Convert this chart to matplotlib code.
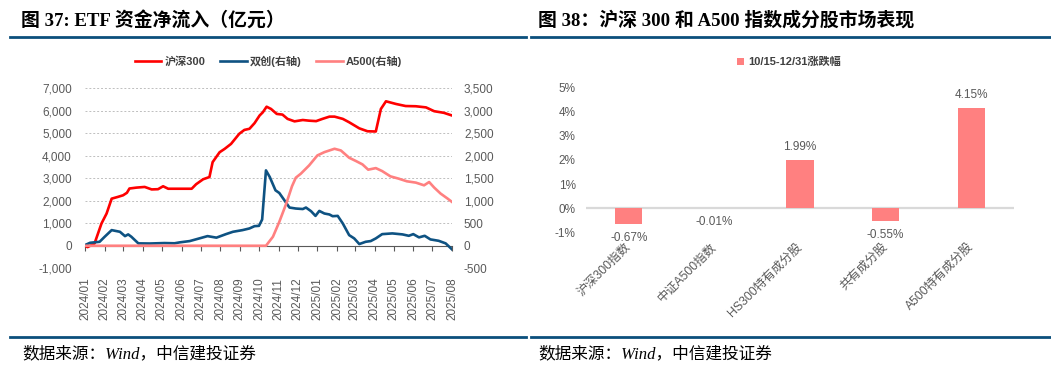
import numpy as np
import pandas as pd
import matplotlib
matplotlib.use('Agg')
import matplotlib.pyplot as plt
import matplotlib.dates as mdates
from matplotlib.ticker import FuncFormatter, MultipleLocator
from matplotlib.lines import Line2D

plt.rcParams['font.family'] = ['Liberation Sans', 'Noto Sans CJK SC']
plt.rcParams['axes.unicode_minus'] = False

# ---- 图37: ETF资金净流入 (亿元) ----
hs300_dates = ['2024-01-01', '2024-01-05', '2024-01-16', '2024-01-27', '2024-02-04', '2024-02-12',
               '2024-02-22', '2024-03-01', '2024-03-07', '2024-03-11', '2024-03-22', '2024-04-04',
               '2024-04-15', '2024-04-25', '2024-05-03', '2024-05-11', '2024-05-24', '2024-06-17',
               '2024-06-24', '2024-07-05', '2024-07-15', '2024-07-20', '2024-07-31', '2024-08-08',
               '2024-08-18', '2024-08-31', '2024-09-08', '2024-09-16', '2024-09-24', '2024-10-02',
               '2024-10-07', '2024-10-13', '2024-10-20', '2024-10-29', '2024-11-07', '2024-11-15',
               '2024-11-26', '2024-12-09', '2024-12-19', '2024-12-30', '2025-01-09', '2025-01-20',
               '2025-01-28', '2025-02-10', '2025-02-20', '2025-03-08', '2025-03-21', '2025-04-03',
               '2025-04-11', '2025-04-19', '2025-05-05', '2025-05-20', '2025-06-05', '2025-06-21',
               '2025-07-04', '2025-07-19', '2025-08-01']
hs300_vals = [0, -60, 100, 990, 1430, 2090,
              2170, 2240, 2350, 2540, 2580, 2610,
              2500, 2510, 2640, 2530, 2530, 2530,
              2730, 2950, 3050, 3710, 4150, 4300,
              4520, 4970, 5140, 5190, 5440, 5780,
              5920, 6170, 6070, 5850, 5820, 5630,
              5520, 5580, 5550, 5530, 5630, 5730,
              5730, 5630, 5480, 5210, 5080, 5070,
              6070, 6410, 6290, 6200, 6190, 6140,
              5970, 5900, 5780]

sc_dates = ['2024-01-01', '2024-01-09', '2024-01-24', '2024-02-01', '2024-02-12', '2024-02-25',
            '2024-03-04', '2024-03-09', '2024-03-14', '2024-03-25', '2024-04-12', '2024-05-05',
            '2024-05-21', '2024-05-29', '2024-06-14', '2024-06-29', '2024-07-12', '2024-07-26',
            '2024-08-10', '2024-08-21', '2024-09-05', '2024-09-16', '2024-09-24', '2024-10-01',
            '2024-10-06', '2024-10-12', '2024-10-18', '2024-10-27', '2024-11-02', '2024-11-10',
            '2024-11-18', '2024-11-28', '2024-12-09', '2024-12-14', '2024-12-22', '2024-12-29',
            '2025-01-04', '2025-01-12', '2025-01-20', '2025-01-25', '2025-02-02', '2025-02-10',
            '2025-02-20', '2025-02-28', '2025-03-08', '2025-03-18', '2025-03-26', '2025-04-03',
            '2025-04-13', '2025-04-29', '2025-05-15', '2025-05-25', '2025-06-01', '2025-06-10',
            '2025-06-19', '2025-06-28', '2025-07-11', '2025-07-22', '2025-08-01']
sc_vals = [15, 66, 88, 200, 347, 310,
           214, 252, 200, 53, 50, 60,
           55, 75, 104, 163, 214, 180,
           258, 310, 347, 384, 435, 442,
           583, 1672, 1525, 1230, 1171, 1010,
           848, 826, 815, 848, 767, 663,
           773, 716, 694, 656, 663, 495,
           236, 163, 38, 88, 104, 163,
           258, 274, 252, 221, 258, 186,
           221, 141, 110, 53, -80]

a500_dates = ['2024-01-01', '2024-10-12', '2024-10-23', '2024-11-02', '2024-11-13', '2024-11-22',
              '2024-11-28', '2024-12-06', '2024-12-19', '2025-01-01', '2025-01-12', '2025-01-28',
              '2025-02-07', '2025-02-20', '2025-03-03', '2025-03-13', '2025-03-22', '2025-04-03',
              '2025-04-13', '2025-04-26', '2025-05-09', '2025-05-22', '2025-06-05', '2025-06-18',
              '2025-06-26', '2025-07-04', '2025-07-14', '2025-07-25', '2025-08-01']
a500_vals = [0, 0, 200, 530, 937, 1320,
             1510, 1600, 1783, 2004, 2077, 2152,
             2114, 1953, 1878, 1805, 1688, 1723,
             1657, 1540, 1489, 1430, 1401, 1341,
             1414, 1290, 1158, 1047, 972]

# ---- 图38: 成分股市场表现 ----
cats = ['沪深300指数', '中证A500指数', 'HS300特有成分股', '共有成分股', 'A500特有成分股']
chg = [-0.67, -0.01, 1.99, -0.55, 4.15]

RED = '#FF0000'
NAVY = '#0E5282'
PINK = '#FF8080'
GRAY = '#595959'
RULE = '#0B4F7C'
W, H = 1051, 368

fig = plt.figure(figsize=(W / 100, H / 100), dpi=100)
title_font = ['Liberation Serif', 'Noto Sans CJK SC']

# titles, rules, footers
fig.text(21 / W, 1 - 20 / H, '图 37: ETF 资金净流入（亿元）', fontsize=13.6, fontweight='bold',
         family=title_font, va='center', ha='left')
fig.text(538 / W, 1 - 20 / H, '图 38：沪深 300 和 A500 指数成分股市场表现', fontsize=13.6, fontweight='bold',
         family=title_font, va='center', ha='left')
for x0, x1 in [(10, 526), (531, 1051)]:
    fig.add_artist(Line2D([x0 / W, x1 / W], [1 - 37 / H] * 2, color=RULE, lw=2))
    fig.add_artist(Line2D([x0 / W, x1 / W], [1 - 337 / H] * 2, color=RULE, lw=2))
fig.text(22 / W, 1 - 354 / H, '数据来源：Wind，中信建投证券', fontsize=12, style='italic',
         family=title_font, va='center', ha='left')
fig.text(538 / W, 1 - 354 / H, '数据来源：Wind，中信建投证券', fontsize=12, style='italic',
         family=title_font, va='center', ha='left')

# left chart
ax1 = fig.add_axes([85 / W, 99.7 / H, 367 / W, 180.3 / H])
l1, = ax1.plot(pd.to_datetime(hs300_dates), hs300_vals, color=RED, lw=1.9)
ax1.set_ylim(-1000, 7000)
ax1.set_xlim(pd.Timestamp('2024-01-01'), pd.Timestamp('2025-08-01'))
ax1.xaxis.set_major_locator(mdates.MonthLocator())
ax1.xaxis.set_major_formatter(mdates.DateFormatter('%Y/%m'))
ax1.tick_params(axis='x', rotation=90, length=3.5, color=GRAY, pad=19.5, labelsize=8.5, labelcolor=GRAY)
ax1.spines['bottom'].set_position(('data', 0))
ax1.spines['bottom'].set_color(GRAY)
for s in ['top', 'left', 'right']:
    ax1.spines[s].set_visible(False)
ax1.yaxis.set_major_locator(MultipleLocator(1000))
ax1.yaxis.set_major_formatter(FuncFormatter(lambda v, p: f'{v:,.0f}'))
ax1.tick_params(axis='y', length=0, pad=9.5, labelsize=8.5, labelcolor=GRAY)
ax1.grid(axis='y', color='#BFBFBF', lw=0.7, ls=(0, (2, 2)))
ax1.set_axisbelow(True)

ax2 = ax1.twinx()
l2, = ax2.plot(pd.to_datetime(sc_dates), sc_vals, color=NAVY, lw=1.9)
l3, = ax2.plot(pd.to_datetime(a500_dates), a500_vals, color=PINK, lw=1.9)
ax2.set_ylim(-500, 3500)
for s in ax2.spines.values():
    s.set_visible(False)
ax2.yaxis.set_major_locator(MultipleLocator(500))
ax2.yaxis.set_major_formatter(FuncFormatter(lambda v, p: f'{v:,.0f}'))
ax2.tick_params(axis='y', length=0, pad=8.6, labelsize=8.5, labelcolor=GRAY)

ax2.legend([l1, l2, l3], ['沪深300', '双创(右轴)', 'A500(右轴)'], loc='center',
           bbox_to_anchor=(0.5, 1 + 27 / 180.3), ncol=3, frameon=False,
           prop={'size': 8, 'weight': 'bold'}, handlelength=2.4, handletextpad=0.3,
           columnspacing=1.3, labelcolor='#404040')

# right chart
ax3 = fig.add_axes([586 / W, 135.7 / H, 428 / W, 144.6 / H])
x = np.arange(len(cats))
ax3.bar(x, chg, width=0.32, color=PINK, label='10/15-12/31涨跌幅', zorder=2)
ax3.set_xlim(-0.5, len(cats) - 0.5)
ax3.set_ylim(-1, 5)
ax3.axhline(0, color='#D9D9D9', lw=1.6, zorder=1)
for s in ax3.spines.values():
    s.set_visible(False)
ax3.yaxis.set_major_locator(MultipleLocator(1))
ax3.yaxis.set_major_formatter(FuncFormatter(lambda v, p: f'{v:.0f}%'))
ax3.tick_params(axis='y', length=0, pad=7.5, labelsize=8.5, labelcolor=GRAY)
ax3.set_xticks(x)
ax3.set_xticklabels(cats, rotation=45, ha='right', va='center', rotation_mode='anchor')
ax3.tick_params(axis='x', length=0, pad=9, labelsize=8.8, labelcolor=GRAY)
for xi, v in zip(x, chg):
    off = 9.5 if v > 0 else -9.5
    ax3.annotate(f'{v:.2f}%', (xi, v), xytext=(0, off), textcoords='offset points',
                 ha='center', va='center', fontsize=8.5, color=GRAY)
ax3.legend(loc='center', bbox_to_anchor=((789 - 586) / 428, (232.3 - 62) / 144.6), frameon=False,
           prop={'size': 8, 'weight': 'bold'}, handlelength=0.6, handleheight=0.6,
           handletextpad=0.4, labelcolor='#404040')

fig.savefig('out.png', dpi=100)
